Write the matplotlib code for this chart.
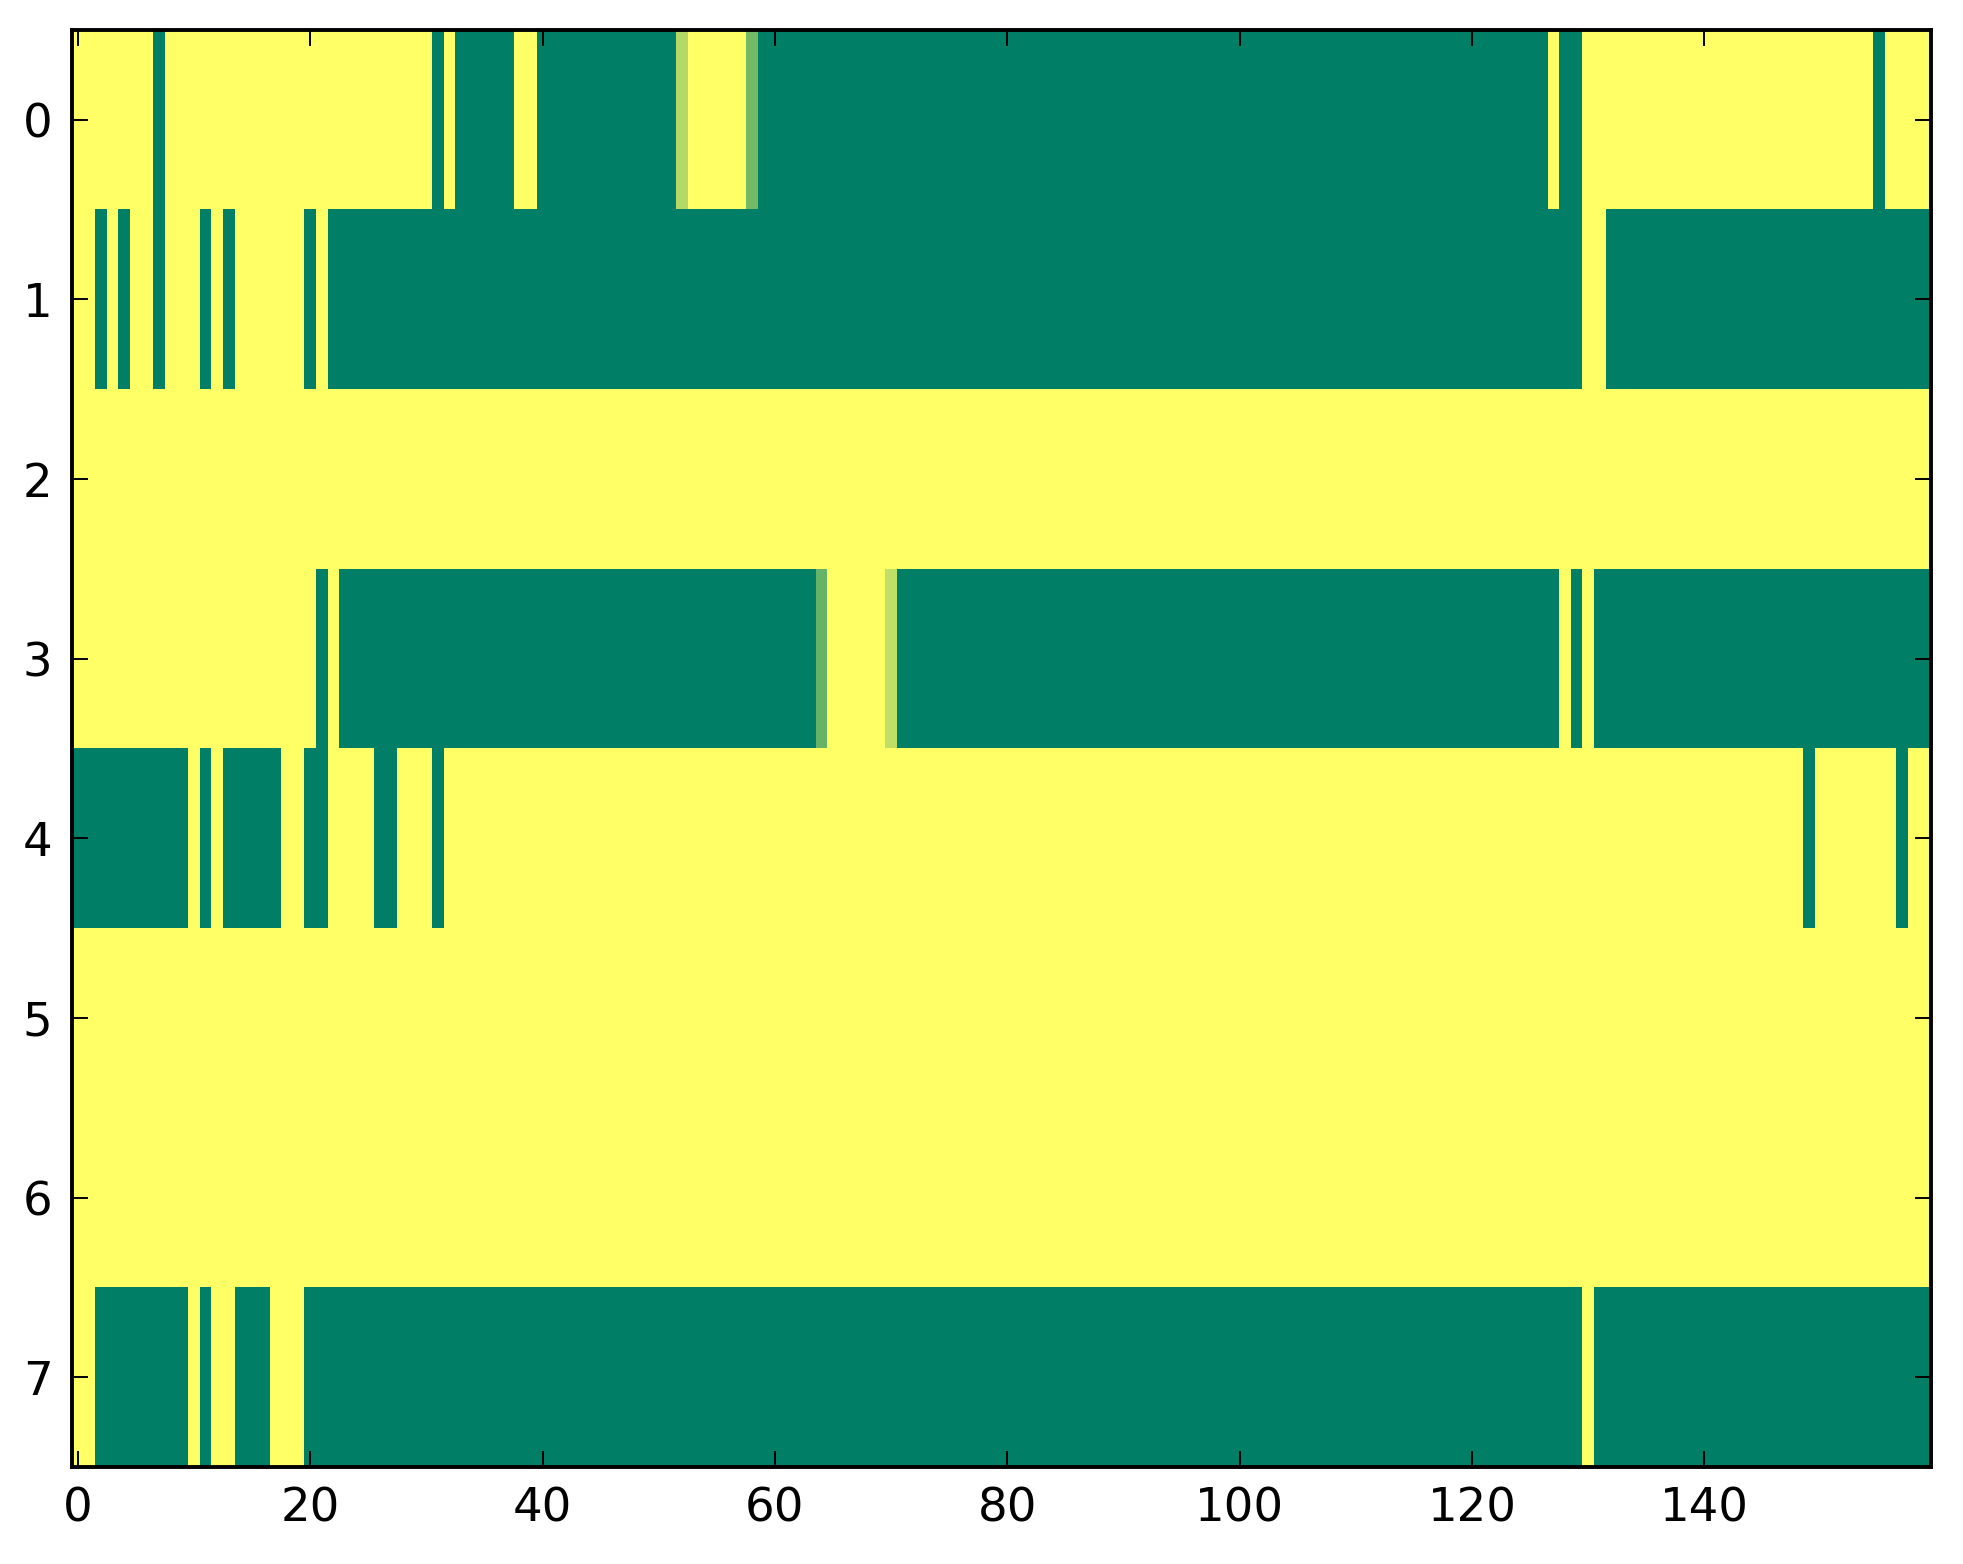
import numpy as np
import matplotlib
matplotlib.use("Agg")
import matplotlib.pyplot as plt

# each row: list of (value, run length); 1 = yellow, 0 = green (summer cmap)
row0 = [(1, 7), (0, 1), (1, 23), (0, 1), (1, 1), (0, 5), (1, 2), (0, 12),
        (0.7, 1), (1, 5), (0.45, 1), (0, 68), (1, 1), (0, 2), (1, 25), (0, 1), (1, 4)]
row1 = [(1, 2), (0, 1), (1, 1), (0, 1), (1, 2), (0, 1), (1, 3), (0, 1), (1, 1),
        (0, 1), (1, 6), (0, 1), (1, 1), (0, 108), (1, 2), (0, 28)]
row2 = [(1, 160)]
row3 = [(1, 21), (0, 1), (1, 1), (0, 41), (0.4, 1), (1, 5), (0.75, 1), (0, 57),
        (1, 1), (0, 1), (1, 1), (0, 29)]
row4 = [(0, 10), (1, 1), (0, 1), (1, 1), (0, 5), (1, 2), (0, 2), (1, 4), (0, 2),
        (1, 3), (0, 1), (1, 117), (0, 1), (1, 7), (0, 1), (1, 2)]
row5 = [(1, 160)]
row6 = [(1, 160)]
row7 = [(1, 2), (0, 8), (1, 1), (0, 1), (1, 2), (0, 3), (1, 3), (0, 110), (1, 1), (0, 29)]

rows = [row0, row1, row2, row3, row4, row5, row6, row7]


def expand(runs):
    out = []
    for v, n in runs:
        out += [v] * n
    return out


grid = np.array([expand(r) for r in rows])

plt.rcParams["font.family"] = "DejaVu Sans"
plt.rcParams["font.size"] = 12

dpi = 280
fig = plt.figure(figsize=(1963 / dpi, 1564 / dpi), dpi=dpi)
fig.subplots_adjust(left=72 / 1963, right=1931 / 1963, top=1 - 30 / 1564, bottom=1 - 1467 / 1564)
ax = fig.add_subplot(111)

ax.imshow(grid, cmap="summer", vmin=0, vmax=1, aspect="auto", interpolation="nearest")

ax.set_xticks(np.arange(0, 160, 20))
ax.set_yticks(np.arange(0, 8))
ax.tick_params(direction="in", top=True, right=True, length=4, width=0.5, pad=5)
for s in ax.spines.values():
    s.set_linewidth(1.0)

fig.savefig("out.png", dpi=dpi, facecolor="white")
